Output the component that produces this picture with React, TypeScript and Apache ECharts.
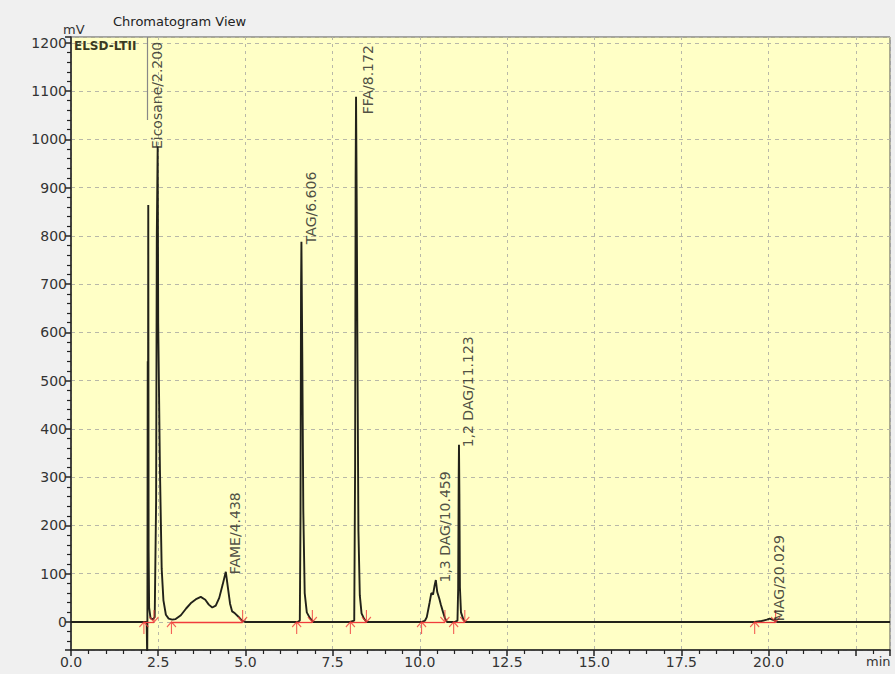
import React, { useEffect, useRef } from "react";
import * as echarts from "echarts";

// Chromatogram trace (time in min, signal in mV)
const traceTime = [
  0, 2.17, 2.185, 2.19, 2.2, 2.205, 2.215, 2.225, 2.24, 2.28, 2.34, 2.4, 2.44, 2.46, 2.485, 2.5, 2.55, 2.6, 2.65, 2.72, 2.8,
  2.9, 3.0, 3.15, 3.3, 3.45, 3.6, 3.72, 3.85, 3.95, 4.05, 4.15, 4.25, 4.35, 4.438, 4.5, 4.56, 4.62, 4.7, 4.8, 4.9, 5.0,
  6.5, 6.56, 6.58, 6.595, 6.606, 6.63, 6.66, 6.7, 6.76, 6.85, 6.95,
  8.0, 8.12, 8.145, 8.16, 8.172, 8.19, 8.215, 8.24, 8.28, 8.33, 8.4, 8.47,
  10.05, 10.15, 10.2, 10.28, 10.33, 10.38, 10.42, 10.459, 10.5, 10.56, 10.6, 10.66, 10.72, 10.78,
  11.0, 11.08, 11.1, 11.115, 11.123, 11.135, 11.15, 11.18, 11.25, 11.3,
  19.6, 19.8, 19.95, 20.029, 20.15, 20.25, 23.48,
];
const traceSignal = [
  0, 0, -80, 0, 540, 120, 864, 150, 30, 8, 5, 10, 250, 800, 985, 620, 315, 110, 45, 15, 7,
  5, 6, 14, 28, 40, 48, 52, 46, 36, 30, 34, 50, 78, 104, 70, 38, 22, 18, 11, 3, 0,
  0, 3, 220, 690, 788, 560, 230, 60, 20, 8, 0,
  0, 3, 320, 920, 1088, 880, 520, 190, 55, 18, 7, 0,
  0, 3, 10, 40, 60, 57, 74, 87, 62, 48, 37, 22, 8, 0,
  0, 3, 70, 300, 367, 265, 72, 20, 5, 0,
  0, 2, 5, 7, 4, 0, 0,
];

// Peak annotations
const peakNames = ["Eicosane/2.200", "FAME/4.438", "TAG/6.606", "FFA/8.172", "1,3 DAG/10.459", "1,2 DAG/11.123", "MAG/20.029"];
const peakTimes = [2.2, 4.438, 6.606, 8.172, 10.459, 11.123, 20.029];
const peakHeights = [985, 104, 788, 1088, 87, 367, 7];

// Integration markers (peak start / end)
const markerStarts = [2.09, 2.88, 6.47, 8.01, 10.05, 10.97, 19.6];
const markerEnds = [2.38, 4.92, 6.92, 8.47, 10.72, 11.29, 20.2];

// Axis ticks
const xTickLabels = ["0.0", "2.5", "5.0", "7.5", "10.0", "12.5", "15.0", "17.5", "20.0"];

const FONT = "DejaVu Sans";
const RED = "#f03c3c";

export default function App() {
  const ref = useRef<HTMLDivElement>(null);

  useEffect(() => {
    if (!ref.current) return;
    const chart = echarts.init(ref.current, undefined, { renderer: "svg" });

    const trace = traceTime.map((t, i) => [t, traceSignal[i]]);
    const labelData = peakNames.map((name, i) => {
      const item: any = { name, value: [peakTimes[i], peakHeights[i]] };
      if (name.startsWith("FFA")) item.label = { position: [12, 18] };
      return item;
    });
    const segs = markerStarts.map((s, i) => [
      { coord: [s, 0] },
      { coord: [markerEnds[i], 0] },
    ]);

    const option: any = {
      animation: false,
      backgroundColor: "#f0f0f0",
      textStyle: { fontFamily: FONT },
      grid: {
        left: 71,
        right: 5,
        top: 37,
        bottom: 24,
        show: true,
        backgroundColor: "#ffffc6",
        borderColor: "#555",
        borderWidth: 1,
      },
      xAxis: {
        type: "value",
        min: 0,
        max: 23.48,
        interval: 2.5,
        axisLine: { onZero: false, lineStyle: { color: "#222", width: 1.5 } },
        axisTick: { show: true, inside: false, length: 6, lineStyle: { color: "#222", width: 1.5 } },
        minorTick: { show: true, splitNumber: 5, length: 4, lineStyle: { color: "#222", width: 1.2 } },
        splitLine: { show: true, lineStyle: { color: "#b8b8a8", type: [3, 4], width: 1 } },
        axisLabel: {
          color: "#333",
          fontSize: 14,
          fontFamily: FONT,
          margin: 5,
          showMaxLabel: false,
          formatter: (v: number) => {
            const idx = Math.round(v / 2.5);
            return Math.abs(idx * 2.5 - v) < 1e-6 && idx < xTickLabels.length ? xTickLabels[idx] : "";
          },
        },
      },
      yAxis: {
        type: "value",
        min: -58,
        max: 1212,
        splitNumber: 12,
        minInterval: 100,
        maxInterval: 100,
        axisLine: { show: true, lineStyle: { color: "#222", width: 1.5 } },
        axisTick: { show: true, inside: false, length: 6, lineStyle: { color: "#222", width: 1.5 } },
        minorTick: { show: true, splitNumber: 5, length: 4, lineStyle: { color: "#222", width: 1.2 } },
        splitLine: { show: true, lineStyle: { color: "#b8b8a8", type: [4, 4], width: 1 } },
        axisLabel: {
          color: "#333",
          fontSize: 14,
          fontFamily: FONT,
          margin: 4,
          showMinLabel: false,
          showMaxLabel: false,
          formatter: (v: number) => (v % 100 === 0 && v >= 0 ? String(v) : ""),
        },
      },
      series: [
        {
          type: "line",
          data: trace,
          symbol: "none",
          z: 3,
          clip: true,
          lineStyle: { color: "#22221a", width: 1.9 },
          markLine: {
            silent: true,
            symbol: ["none", "none"],
            label: { show: false },
            lineStyle: { color: "#888", type: "solid", width: 1.2 },
            data: [[{ coord: [peakTimes[0], 1040] }, { coord: [peakTimes[0], 1212] }]],
          },
        },
        {
          type: "scatter",
          data: markerStarts.map((t) => [t, 0]),
          symbol: "path://M5,0L5,12M0,5L5,0L10,5",
          symbolSize: [9, 12],
          symbolOffset: [0, 6],
          z: 5,
          itemStyle: { color: "rgba(0,0,0,0)", borderColor: RED, borderWidth: 1.3 },
          markLine: {
            silent: true,
            symbol: ["none", "none"],
            label: { show: false },
            lineStyle: { color: RED, type: "solid", width: 1.3 },
            data: segs,
          },
        },
        {
          type: "scatter",
          data: markerEnds.map((t) => [t, 0]),
          symbol: "path://M5,12L5,0M0,7L5,12L10,7",
          symbolSize: [9, 12],
          symbolOffset: [0, -6],
          z: 5,
          itemStyle: { color: "rgba(0,0,0,0)", borderColor: RED, borderWidth: 1.3 },
        },
        {
          type: "scatter",
          data: labelData,
          symbolSize: 1,
          z: 6,
          itemStyle: { color: "rgba(0,0,0,0)" },
          label: {
            show: true,
            formatter: "{b}",
            position: [10, 3],
            rotate: 90,
            align: "left",
            verticalAlign: "middle",
            color: "#222",
            fontSize: 14,
            fontFamily: FONT,
          },
        },
      ],
      graphic: [
        { type: "text", left: 113, top: 15, style: { text: "Chromatogram View", fontSize: 13, fontFamily: FONT, fill: "#222" } },
        { type: "text", left: 63, top: 23, style: { text: "mV", fontSize: 13, fontFamily: FONT, fill: "#333" } },
        { type: "text", left: 74, top: 40, z: 10, style: { text: "ELSD-LTII", fontSize: 12, fontWeight: "bold", fontFamily: FONT, fill: "#3a3a22" } },
        { type: "text", left: 866, top: 655, style: { text: "min", fontSize: 13, fontFamily: FONT, fill: "#333" } },
      ],
    };

    chart.setOption(option);
    return () => chart.dispose();
  }, []);

  return <div ref={ref} style={{ width: 895, height: 674, position: "absolute", left: 0, top: 0 }} />;
}
